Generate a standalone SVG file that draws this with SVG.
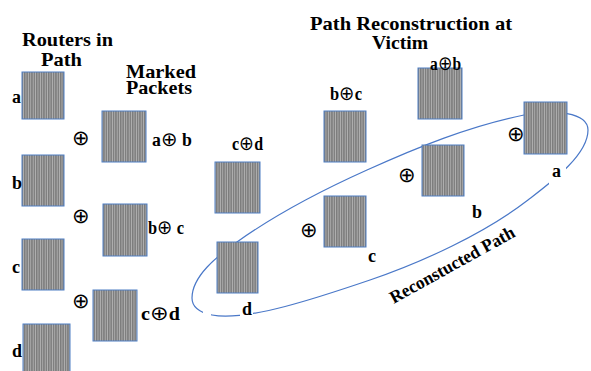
<svg xmlns="http://www.w3.org/2000/svg" width="591" height="371" viewBox="0 0 591 371">
<defs>
<pattern id="st" width="2.4" height="10" patternUnits="userSpaceOnUse">
<rect width="2.4" height="10" fill="#7c7c7c"/>
<rect x="1.5" width="0.9" height="10" fill="#b4b4b4"/>
</pattern>
</defs>
<style>
.sq{fill:url(#st);stroke:#4f7fc4;stroke-width:1}
.t{font-family:'Liberation Serif','DejaVu Serif',serif;font-weight:700;fill:#000}
.h{font-size:19px}
.l{font-size:18px}
.op{font-family:'DejaVu Sans',sans-serif;font-weight:200;font-size:20px}
.sym{font-family:'DejaVu Sans',sans-serif;font-weight:200;font-size:21px;fill:#000;text-anchor:middle;dominant-baseline:central}
.cv{fill:none;stroke:#4a78c8;stroke-width:1.2}
.bg{fill:#fff}
</style>
<rect width="591" height="371" fill="#fff"/>

<g id="titles" font-family="Liberation Serif, serif" font-weight="700">
<text class="t h" x="22" y="46" textLength="91" lengthAdjust="spacingAndGlyphs">Routers in</text>
<text class="t h" x="41" y="66" textLength="41" lengthAdjust="spacingAndGlyphs">Path</text>
<text class="t h" x="126" y="78" textLength="70" lengthAdjust="spacingAndGlyphs">Marked</text>
<text class="t h" x="126" y="94" textLength="66" lengthAdjust="spacingAndGlyphs">Packets</text>
<text class="t h" x="310" y="30" textLength="202" lengthAdjust="spacingAndGlyphs">Path Reconstruction at</text>
<text class="t h" x="372" y="49" textLength="56" lengthAdjust="spacingAndGlyphs">Victim</text>
</g>

<g id="connectors">
<path class="cv" d="M192,298 C192,276 217.5,256 237,242 C277.5,213 321.4,190.5 367,170 C417,147.4 470,125.8 524,115 C553.4,109.1 588,112 588,130 C588,155 551.8,181.7 528,200 C484.4,233.6 422,262.3 370,280 C320,297 246.3,321.9 212,315 C202.2,313 192,308 192,298 Z"/>
<rect class="bg" x="203" y="309" width="8" height="10"/>
<text class="t" font-size="18" transform="translate(455,270) rotate(-29)" text-anchor="middle" textLength="140" lengthAdjust="spacingAndGlyphs">Reconstucted Path</text>
</g>

<g id="ops">
<text class="sym" x="81" y="138">⊕</text>
<text class="sym" x="81" y="216">⊕</text>
<text class="sym" x="81" y="301">⊕</text>
<text class="sym" x="309" y="230">⊕</text>
<text class="sym" x="407" y="175">⊕</text>
<text class="sym" x="516" y="134">⊕</text>
</g>

<g id="router-a">
<rect class="sq" x="22" y="72" width="42" height="47"/>
<text class="t l" x="12" y="103">a</text>
</g>
<g id="router-b">
<rect class="sq" x="22" y="155" width="42" height="51"/>
<text class="t l" x="12" y="189">b</text>
</g>
<g id="router-c">
<rect class="sq" x="22" y="239" width="42" height="51"/>
<text class="t l" x="12" y="273">c</text>
</g>
<g id="router-d">
<rect class="sq" x="23" y="324" width="47" height="52"/>
<text class="t l" x="12" y="357">d</text>
</g>

<g id="marked-ab">
<rect class="sq" x="102" y="111" width="44" height="51"/>
<text class="t l" x="152" y="146" textLength="40" lengthAdjust="spacingAndGlyphs">a<tspan class="op">⊕</tspan> b</text>
</g>
<g id="marked-bc">
<rect class="sq" x="103" y="204" width="44" height="52"/>
<text class="t l" x="148" y="234" textLength="36" lengthAdjust="spacingAndGlyphs">b<tspan class="op">⊕</tspan> c</text>
</g>
<g id="marked-cd">
<rect class="sq" x="93" y="290" width="44" height="51"/>
<text class="t l" x="141" y="320" textLength="39" lengthAdjust="spacingAndGlyphs">c<tspan class="op">⊕</tspan>d</text>
</g>

<g id="victim-cd">
<rect class="sq" x="215" y="162" width="45" height="51"/>
<text class="t l" x="232" y="150" textLength="31" lengthAdjust="spacingAndGlyphs">c<tspan class="op">⊕</tspan>d</text>
</g>
<g id="victim-bc">
<rect class="sq" x="324" y="111" width="42" height="51"/>
<text class="t l" x="330" y="100" textLength="32" lengthAdjust="spacingAndGlyphs">b<tspan class="op">⊕</tspan>c</text>
</g>
<g id="victim-ab">
<rect class="sq" x="418" y="68" width="44" height="51"/>
<text class="t l" x="430" y="70" textLength="31" lengthAdjust="spacingAndGlyphs">a<tspan class="op">⊕</tspan>b</text>
</g>

<g id="path-a">
<rect class="sq" x="524" y="102" width="43" height="52"/>
<rect class="bg" x="549" y="164" width="17" height="22"/>
<text class="t l" x="552" y="177">a</text>
</g>
<g id="path-b">
<rect class="sq" x="422" y="145" width="42" height="51"/>
<text class="t l" x="472" y="218">b</text>
</g>
<g id="path-c">
<rect class="sq" x="324" y="196" width="42" height="51"/>
<text class="t l" x="368" y="262">c</text>
</g>
<g id="path-d">
<rect class="sq" x="217" y="242" width="41" height="51"/>
<rect class="bg" x="240" y="303" width="13" height="16"/>
<text class="t l" x="242" y="315">d</text>
</g>
</svg>
